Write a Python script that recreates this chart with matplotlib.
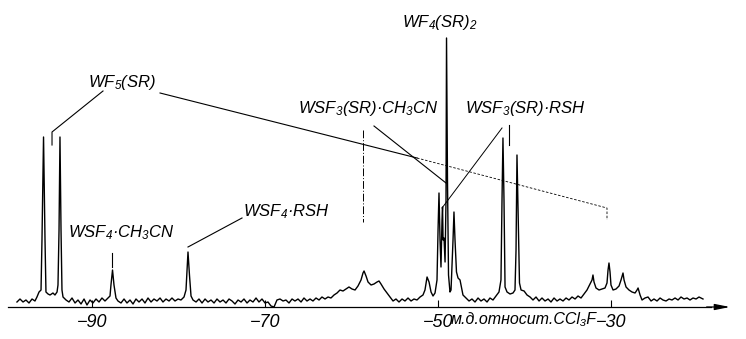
import matplotlib
matplotlib.use('Agg')
import matplotlib.pyplot as plt

plt.rcParams['font.family'] = ['Liberation Sans', 'DejaVu Sans']
plt.rcParams['font.style'] = 'italic'
plt.rcParams['mathtext.fontset'] = 'custom'
plt.rcParams['mathtext.rm'] = 'Liberation Sans:italic'
plt.rcParams['mathtext.it'] = 'Liberation Sans:italic'

# 19F NMR trace (ppm rel. CCl3F, arbitrary intensity)
shift_ppm = [
    -98.68, -98.33, -97.98, -97.64, -97.29, -96.94, -96.60, -96.37, -96.13,
    -95.90, -95.79, -95.61, -95.44, -95.33,
    -95.09, -94.86, -94.52, -94.29, -94.05,
    -93.94, -93.82, -93.71, -93.59, -93.48, -93.36,
    -93.01, -92.67, -92.32, -91.97, -91.63, -91.28, -90.93, -90.59, -90.24,
    -89.90, -89.55, -89.20, -88.86, -88.51, -88.16,
    -87.93, -87.82, -87.64, -87.47, -87.24, -87.01,
    -86.66, -86.31, -85.97, -85.62, -85.27, -84.93, -84.58, -84.23, -83.89,
    -83.54, -83.19, -82.85, -82.50, -82.15, -81.81, -81.46, -81.11, -80.77,
    -80.42, -80.07, -79.73, -79.38,
    -79.15, -79.03, -78.92, -78.75, -78.57, -78.34,
    -77.99, -77.65, -77.30, -76.95, -76.61, -76.26, -75.91, -75.57, -75.22,
    -74.87, -74.53, -74.18, -73.83, -73.49, -73.14, -72.79, -72.45, -72.10,
    -71.76, -71.41, -71.06, -70.72, -70.37, -70.02, -69.68, -69.33, -68.98,
    -68.64, -68.29, -67.94, -67.60, -67.25, -66.90, -66.56, -66.21, -65.86,
    -65.52, -65.17, -64.82, -64.48, -64.13, -63.78, -63.44, -63.09, -62.74,
    -62.40, -62.05, -61.70, -61.36, -61.01, -60.66, -60.32, -59.97, -59.62,
    -59.28, -58.93, -58.70, -58.58, -58.35, -58.12, -57.77, -57.43, -57.08,
    -56.85, -56.62, -56.27, -55.93, -55.58, -55.23, -54.89, -54.54, -54.19,
    -53.85, -53.50, -53.15, -52.81, -52.46, -52.11, -51.77,
    -51.54, -51.30, -51.07, -50.84, -50.61, -50.38,
    -50.15, -50.03, -49.92, -49.80, -49.69, -49.57, -49.51, -49.45, -49.34,
    -49.22, -49.11, -49.05, -48.94, -48.82, -48.65, -48.53, -48.30, -48.19,
    -48.07, -47.90, -47.72, -47.49, -47.38, -47.15, -46.80, -46.45, -46.11,
    -45.76, -45.41, -45.07, -44.72, -44.37, -44.03, -43.68, -43.33, -42.99,
    -42.76, -42.64, -42.53, -42.41, -42.29, -42.06, -41.71, -41.37, -41.14,
    -41.02, -40.91, -40.79, -40.62, -40.44, -40.09, -39.75, -39.40, -39.06,
    -38.71, -38.36, -38.02, -37.67, -37.32, -36.98, -36.63, -36.28, -35.94,
    -35.59, -35.24, -34.90, -34.55, -34.20, -33.86, -33.51, -33.16, -32.82,
    -32.47, -32.24, -32.13, -32.01, -31.78, -31.43, -31.09, -30.74, -30.51,
    -30.39, -30.28, -30.16, -30.05, -29.81, -29.47, -29.12, -28.89, -28.66,
    -28.54, -28.31, -27.97, -27.62, -27.27, -27.04, -26.92, -26.69, -26.46,
    -26.12, -25.77, -25.42, -25.08, -24.73, -24.38, -24.04, -23.69, -23.34,
    -23.00, -22.65, -22.30, -21.96, -21.61, -21.26, -20.92, -20.57, -20.22,
    -19.88, -19.42,
]
intensity = [
    -1, 2, -1, 1, -2, 2, 0, 4, 9,
    11, 61, 164, 61, 9,
    7, 6, 8, 6, 9,
    16, 71, 164, 71, 11, 4,
    1, -1, 3, -2, 1, -3, 2, -4, 1,
    -2, 2, -1, 3, 0, 3,
    5, 16, 31, 16, 3, 0,
    -2, 2, -2, 1, -3, 2, -1, 2, -2,
    3, -1, 2, 0, 3, -1, 2, 0, 3,
    0, 2, 1, 4,
    11, 31, 49, 26, 5, 1,
    -1, 2, -2, 2, -1, 1, -2, 2, -1,
    1, -2, 2, 0, -3, 1, -1, 2, -2,
    1, -1, 3, -1, 2, -2, -1, -5, -6,
    1, 2, 0, 1, -2, 2, 0, 2, -1,
    3, 0, 2, 0, 3, 1, 4, 2, 4,
    3, 6, 8, 11, 10, 12, 14, 12, 11,
    15, 21, 28, 30, 25, 19, 16, 17, 19,
    20, 17, 12, 8, 4, 0, 2, -1, 2,
    0, 3, 0, 2, 1, 4, 6,
    11, 24, 19, 9, 5, 8,
    21, 71, 108, 61, 34, 81, 94, 61, 63,
    39, 101, 263, 121, 26, 9, 11, 61, 89,
    61, 29, 23, 21, 16, 6, 3, 0, 2,
    -1, 3, 0, 2, -1, 3, 1, 5, 9,
    21, 101, 163, 101, 14, 9, 7, 8, 11,
    51, 146, 91, 18, 11, 10, 6, 4, 1,
    4, 0, 3, 0, 2, -1, 3, 0, 2,
    0, 3, 1, 4, 2, 5, 3, 7, 11,
    17, 21, 26, 19, 13, 11, 12, 13, 18,
    31, 38, 29, 16, 11, 12, 15, 21, 28,
    21, 14, 11, 9, 8, 11, 13, 6, 1,
    3, 4, 0, 2, 0, 3, 1, 0, 2,
    1, 3, 1, 4, 2, 3, 1, 3, 2,
    4, 2,
]

tick_ppm = [-90, -70, -50, -30]
tick_labels = ['−90', '−70', '−50', '−30']
unit_label = 'м.д.относит.CCl₃F'

fig = plt.figure(figsize=(7.46, 3.39), dpi=100)
ax = fig.add_axes([0, 0, 1, 1])
ax.set_xlim(-100.64, -14.45)
ax.set_ylim(-38, 301)

ax.plot(shift_ppm, intensity, color='black', lw=1.0, solid_joinstyle='round')

# axis with arrow
for side in ['top', 'right', 'left']:
    ax.spines[side].set_visible(False)
ax.spines['bottom'].set_position(('data', -6))
ax.spines['bottom'].set_bounds(-99.7, -18.5)
ax.spines['bottom'].set_linewidth(0.9)
ax.annotate('', xy=(-16.3, -6), xytext=(-19.0, -6),
            arrowprops=dict(arrowstyle='-|>,head_length=0.9,head_width=0.18',
                            lw=0.9, color='black', shrinkA=0, shrinkB=0))
ax.set_yticks([])
ax.set_xticks(tick_ppm)
ax.set_xticklabels(tick_labels)
ax.tick_params(axis='x', direction='in', length=5, width=0.8, labelsize=13, pad=5)
ax.text(-48.6, -19, unit_label, fontsize=11.5, ha='left', va='center')

lw = 0.8
fs = 12
# WF5(SR)
ax.text(-90.5, 219, 'WF$_5$(SR)', fontsize=fs, ha='left', va='center')
ax.plot([-88.74, -94.63, -94.63], [210, 169, 156], color='black', lw=lw)
ax.plot([-82.15, -52.46], [208, 143], color='black', lw=lw)
ax.plot([-52.46, -30.51, -30.51], [143, 93, 81], color='black', lw=0.6,
        ls=(0, (3, 2)))
# WSF4.CH3CN
ax.text(-92.8, 68, 'WSF$_4$·CH$_3$CN', fontsize=fs, ha='left', va='center')
ax.plot([-87.70, -87.70], [48, 34], color='black', lw=lw)
# WSF4.RSH
ax.text(-72.6, 89, 'WSF$_4$·RSH', fontsize=fs, ha='left', va='center')
ax.plot([-72.68, -78.92], [83, 54], color='black', lw=lw)
# WSF3(SR).CH3CN
ax.text(-66.2, 193, 'WSF$_3$(SR)·CH$_3$CN', fontsize=fs, ha='left', va='center')
ax.plot([-57.43, -49.11], [175, 118], color='black', lw=lw)
ax.plot([-58.70, -58.70], [171, 79], color='black', lw=0.7,
        ls=(0, (8, 2, 1, 2)))
# WF4(SR)2
ax.text(-54.2, 279, 'WF$_4$(SR)$_2$', fontsize=fs, ha='left', va='center')
# WSF3(SR).RSH
ax.text(-46.9, 193, 'WSF$_3$(SR)·RSH', fontsize=fs, ha='left', va='center')
ax.plot([-42.64, -49.57], [173, 93], color='black', lw=0.7)
ax.plot([-41.83, -41.83], [176, 156], color='black', lw=lw)

fig.savefig('out.png', dpi=100)
